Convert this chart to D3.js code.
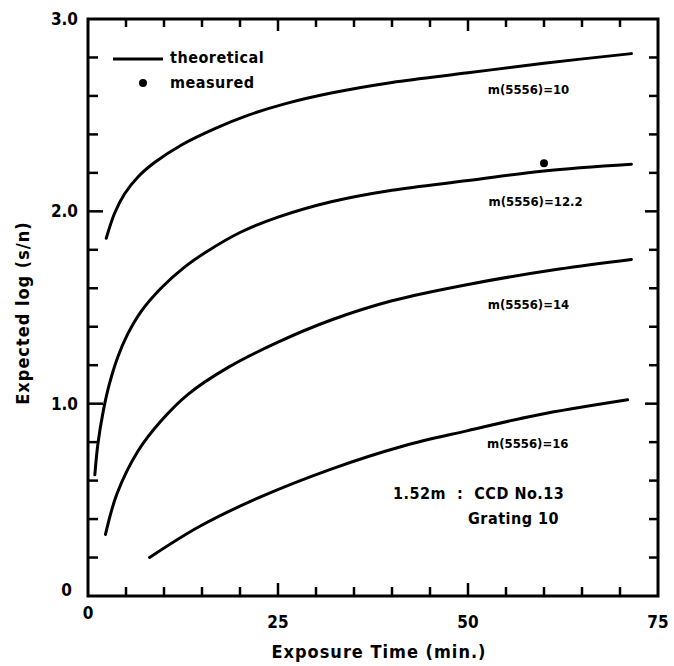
<!DOCTYPE html>
<html>
<head>
<meta charset="utf-8">
<script src="https://cdn.jsdelivr.net/npm/d3@7"></script>
<style>
body { margin: 0; background: #fff; }
text { font-family: "DejaVu Sans Condensed", "DejaVu Sans", sans-serif; font-weight: bold; fill: #000; }
</style>
</head>
<body>
<div id="chart"></div>
<script>
// exposure time (min.) and expected log(s/n)
var t10 = [2.4, 3.5, 4.8, 6.6, 8.8, 12.3, 16.7, 21.1, 26, 32, 40, 50, 60, 71.5];
var v10 = [1.86, 1.99, 2.09, 2.18, 2.255, 2.345, 2.43, 2.50, 2.56, 2.615, 2.67, 2.72, 2.77, 2.82];

var t122 = [0.9, 1.3, 2.0, 2.8, 3.9, 5.2, 7.0, 9.6, 12.7, 15.6, 20, 25, 32, 40, 50, 60, 71.5];
var v122 = [0.63, 0.79, 0.96, 1.10, 1.24, 1.36, 1.48, 1.60, 1.71, 1.79, 1.89, 1.97, 2.05, 2.11, 2.16, 2.21, 2.245];

var t14 = [2.3, 3.8, 6.6, 9.6, 13.2, 18.5, 25, 32, 40, 50, 62, 71.5];
var v14 = [0.32, 0.53, 0.755, 0.91, 1.05, 1.19, 1.32, 1.435, 1.535, 1.62, 1.70, 1.75];

var t16 = [8.1, 14.6, 22.4, 32, 41.5, 50, 59, 71];
var v16 = [0.20, 0.36, 0.51, 0.66, 0.78, 0.86, 0.94, 1.02];

var measuredT = [60];
var measuredV = [2.25];

var curveLabels = ["m(5556)=10", "m(5556)=12.2", "m(5556)=14", "m(5556)=16"];
var curveLabelPos = [[52.6, 2.61], [52.7, 2.03], [52.6, 1.49], [52.5, 0.77]];

var xTicks = [0, 25, 50, 75];
var yTicks = [0, 1.0, 2.0, 3.0];

var width = 674, height = 666;
var margin = {left: 88, right: 16, top: 19, bottom: 70};

var svg = d3.select("#chart")
  .append("svg")
    .attr("width", width)
    .attr("height", height);

var x = d3.scaleLinear().domain([0, 75]).range([margin.left, width - margin.right]);
var y = d3.scaleLinear().domain([0, 3]).range([height - margin.bottom, margin.top]);

//frame
svg.append("rect")
    .attr("x", x(0))
    .attr("y", y(3))
    .attr("width", x(75) - x(0))
    .attr("height", y(0) - y(3))
    .style("fill", "none")
    .style("stroke", "black")
    .style("stroke-width", "3px");

//ticks, all pointing inwards
var xMinor = d3.range(5, 75, 5);
var yMinor = d3.range(0.2, 3, 0.2);
function isMajorX(d) { return d % 25 == 0; }
function isMajorY(d) { return Math.abs(d - Math.round(d)) < 1e-6; }

svg.selectAll(".xb").data(xMinor).enter().append("line")
    .attr("x1", function(d) { return x(d); })
    .attr("x2", function(d) { return x(d); })
    .attr("y1", y(0))
    .attr("y2", function(d) { return y(0) - (isMajorX(d) ? 13 : 9); })
    .style("stroke", "black").style("stroke-width", "2.5px");
svg.selectAll(".xt").data(xMinor).enter().append("line")
    .attr("x1", function(d) { return x(d); })
    .attr("x2", function(d) { return x(d); })
    .attr("y1", y(3))
    .attr("y2", function(d) { return y(3) + (isMajorX(d) ? 12 : 8); })
    .style("stroke", "black").style("stroke-width", "2.5px");
svg.selectAll(".yl").data(yMinor).enter().append("line")
    .attr("x1", x(0))
    .attr("x2", function(d) { return x(0) + (isMajorY(d) ? 15 : 10); })
    .attr("y1", function(d) { return y(d); })
    .attr("y2", function(d) { return y(d); })
    .style("stroke", "black").style("stroke-width", "2.5px");
svg.selectAll(".yr").data(yMinor).enter().append("line")
    .attr("x1", x(75))
    .attr("x2", function(d) { return x(75) - (isMajorY(d) ? 13 : 9); })
    .attr("y1", function(d) { return y(d); })
    .attr("y2", function(d) { return y(d); })
    .style("stroke", "black").style("stroke-width", "2.5px");

//tick labels
svg.selectAll(".xl").data(xTicks).enter().append("text")
    .attr("x", function(d) { return x(d); })
    .attr("y", function(d) { return d == 0 ? 619 : 628; })
    .attr("text-anchor", "middle")
    .style("font-size", "17px")
    .text(function(d) { return d; });
svg.selectAll(".ylab").data(yTicks).enter().append("text")
    .attr("x", function(d) { return d == 0 ? 72 : 78; })
    .attr("y", function(d) { return d == 0 ? y(d) : y(d) + 6; })
    .attr("text-anchor", "end")
    .style("font-size", "17px")
    .text(function(d) { return d == 0 ? "0" : d.toFixed(1); });

//axis titles
svg.append("text")
    .attr("x", 379)
    .attr("y", 658)
    .attr("text-anchor", "middle")
    .style("font-size", "18px")
    .style("letter-spacing", "1px")
    .text("Exposure Time (min.)");
svg.append("text")
    .attr("transform", "translate(29, 313) rotate(-90)")
    .attr("text-anchor", "middle")
    .style("font-size", "18px")
    .style("letter-spacing", "1px")
    .text("Expected log (s/n)");

//curves
var line = d3.line()
    .x(function(d) { return x(d[0]); })
    .y(function(d) { return y(d[1]); })
    .curve(d3.curveCatmullRom.alpha(0.5));
var series = [[t10, v10], [t122, v122], [t14, v14], [t16, v16]];
series.forEach(function(s) {
	svg.append("path")
	    .datum(d3.zip(s[0], s[1]))
	    .attr("d", line)
	    .style("fill", "none")
	    .style("stroke", "black")
	    .style("stroke-width", "3px")
	    .attr("stroke-linecap", "round");
});

//measured point
svg.selectAll(".pt").data(d3.zip(measuredT, measuredV)).enter().append("circle")
    .attr("cx", function(d) { return x(d[0]); })
    .attr("cy", function(d) { return y(d[1]); })
    .attr("r", 4)
    .style("fill", "black");

//curve labels
svg.selectAll(".cl").data(curveLabels).enter().append("text")
    .attr("x", function(d, i) { return x(curveLabelPos[i][0]); })
    .attr("y", function(d, i) { return y(curveLabelPos[i][1]); })
    .style("font-size", "13px")
    .text(function(d) { return d; });

//legend
svg.append("line")
    .attr("x1", 113).attr("x2", 163)
    .attr("y1", 59).attr("y2", 59)
    .style("stroke", "black").style("stroke-width", "3px");
svg.append("text")
    .attr("x", 170).attr("y", 63)
    .style("font-size", "16px")
    .style("letter-spacing", "0.5px")
    .text("theoretical");
svg.append("circle")
    .attr("cx", 143).attr("cy", 83).attr("r", 4)
    .style("fill", "black");
svg.append("text")
    .attr("x", 170).attr("y", 88)
    .style("font-size", "16px")
    .style("letter-spacing", "0.5px")
    .text("measured");

//instrument note
svg.append("text")
    .attr("x", 393).attr("y", 499)
    .style("font-size", "16px")
    .style("letter-spacing", "0.5px")
    .attr("xml:space", "preserve")
    .text("1.52m  :  CCD No.13");
svg.append("text")
    .attr("x", 468).attr("y", 524)
    .style("font-size", "16px")
    .style("letter-spacing", "0.5px")
    .text("Grating 10");
</script>
</body>
</html>
